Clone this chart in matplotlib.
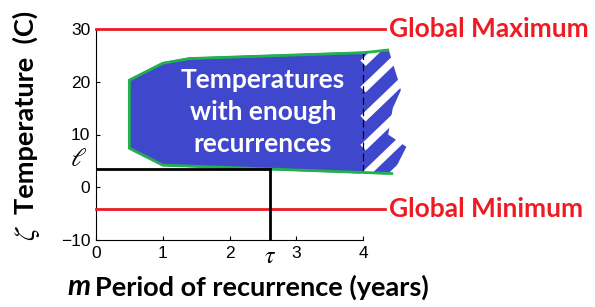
import numpy as np
import matplotlib
matplotlib.use('Agg')
import matplotlib.pyplot as plt
from matplotlib.patches import Polygon

plt.rcParams['font.family'] = 'Liberation Sans'
plt.rcParams['mathtext.fontset'] = 'stix'

# ── Data ─────────────────────────────────────────────────────────────────────
x_ticks = [0, 1, 2, 2.6, 3, 4]
x_ticklabels = ['0', '1', '2', r'$\tau$', '3', '4']
y_ticks = [-10, 0, 10, 20, 30]

global_max = 30
global_min = -4.2
ell = 3.5          # temperature threshold
tau = 2.6          # recurrence period

# region of temperatures with enough recurrences (x = years, y = deg C)
region_top_x = [0.5, 1.0, 1.4, 4.0, 4.37]
region_top_y = [20.3, 23.5, 24.4, 25.5, 26.0]
region_right_x = [4.43, 4.52, 4.55, 4.43, 4.36, 4.63, 4.43]
region_right_y = [23.5, 19.9, 18.4, 15.0, 9.9, 7.6, 2.6]
region_bottom_x = [4.0, 1.0, 0.5]
region_bottom_y = [2.8, 4.2, 7.4]

# white stripes on the uncertain part beyond 4 years (start temperature at x=4)
stripe_starts = [-3.0, 2.0, 7.5, 13.0, 18.5, 23.5]

BLUE = '#3f48cc'
GREEN = '#22b14c'
RED = '#ed1c24'

fig = plt.figure(figsize=(5.95, 3.07), dpi=100)
ax = fig.add_axes([96 / 595, 1 - 240 / 307, 267 / 595, 211 / 307])
ax.set_xlim(0, 4)
ax.set_ylim(-10, 30)

# ── Region ───────────────────────────────────────────────────────────────────
px = region_top_x + region_right_x + region_bottom_x
py = region_top_y + region_right_y + region_bottom_y
poly = Polygon(np.column_stack([px, py]), closed=True, facecolor=BLUE,
               edgecolor=BLUE, linewidth=1.5, clip_on=False, zorder=2)
ax.add_patch(poly)

for y0 in stripe_starts:
    ln, = ax.plot([4.0, 4.7], [y0, y0 + 8.5], color='white', lw=5.5,
                  solid_capstyle='butt', clip_on=False, zorder=3)
    ln.set_clip_path(poly)

ax.plot([4.0, 4.0], [region_bottom_y[0], region_top_y[3]], color='black',
        lw=0.9, ls=(0, (6, 3)), clip_on=False, zorder=4)

# green outline on left, top and bottom
gx = [region_right_x[-1]] + region_bottom_x + region_top_x
gy = [region_right_y[-1]] + region_bottom_y + region_top_y
ax.plot(gx, gy, color=GREEN, lw=2, clip_on=False, zorder=4)

ax.text(2.5, 14.2, 'Temperatures\nwith enough\nrecurrences', color='white',
        fontsize=19, fontweight='bold', family='Lato', ha='center',
        va='center', linespacing=1.4, zorder=5)

# ── Global extremes ──────────────────────────────────────────────────────────
for yv, lab in [(global_max, 'Global Maximum'), (global_min, 'Global Minimum')]:
    ax.plot([0, 4.33], [yv, yv], color=RED, lw=2, clip_on=False, zorder=3)
    ax.text(4.39, yv, lab, color=RED, fontsize=19, fontweight='bold',
            family='Lato', ha='left', va='center')

# ── Threshold lines ──────────────────────────────────────────────────────────
ax.plot([0, tau], [ell, ell], color='black', lw=2, zorder=6)
ax.plot([tau, tau], [-10, ell], color='black', lw=2, zorder=6)
ax.text(-0.14, ell - 0.4, r'$\ell$', fontsize=19, ha='right', va='bottom')

# ── Axes styling ─────────────────────────────────────────────────────────────
ax.spines['top'].set_visible(False)
ax.spines['right'].set_visible(False)
ax.set_xticks(x_ticks)
ax.set_xticklabels(x_ticklabels)
ax.set_yticks(y_ticks)
ax.tick_params(direction='in', length=3, labelsize=12.5, pad=4)
ax.get_xticklabels()[3].set_fontsize(17)

fig.text(91 / 595, 1 - 287 / 307, 'm', fontsize=21, fontweight='bold',
         fontstyle='italic', family='Lato', ha='right', va='center')
fig.text(95 / 595, 1 - 287 / 307, 'Period of recurrence (years)', fontsize=19.5,
         fontweight='bold', family='Lato', ha='left', va='center')
fig.text(25 / 595, 1 - 214 / 307, 'Temperature  (C)', fontsize=19.5,
         fontweight='bold', family='Lato', rotation=90, ha='center',
         va='bottom')
fig.text(27 / 595, 1 - 233 / 307, r'$\zeta$', fontsize=21, rotation=90,
         ha='center', va='center')

fig.savefig('out.png', dpi=100)
